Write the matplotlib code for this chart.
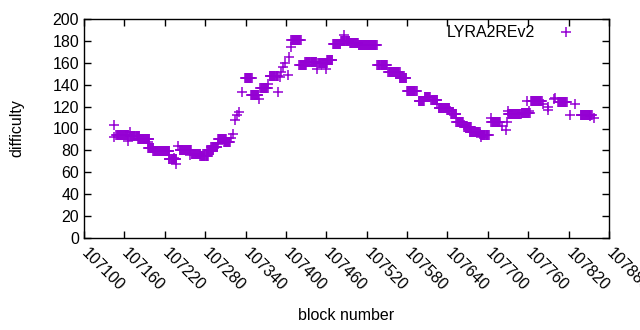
import numpy as np
import matplotlib
matplotlib.use("Agg")
import matplotlib.pyplot as plt

plt.rcParams["font.family"] = ["Liberation Sans", "DejaVu Sans"]
plt.rcParams["font.size"] = 11.5

# runs of blocks that kept the same difficulty: first block, last block, difficulty
run_start = [107148, 107168, 107180, 107195, 107203, 107226, 107242, 107260, 107273,
             107283, 107289, 107299, 107308, 107339, 107348, 107362, 107376, 107408,
             107420, 107429, 107448, 107461, 107470, 107482, 107495, 107508, 107536,
             107552, 107569, 107580, 107597, 107606, 107616, 107627, 107645, 107653,
             107665, 107673, 107690, 107705, 107730, 107750, 107764, 107804, 107838]
run_end = [107166, 107182, 107197, 107203, 107227, 107237, 107259, 107272, 107284,
           107292, 107298, 107311, 107317, 107349, 107359, 107373, 107388, 107422,
           107430, 107445, 107461, 107469, 107481, 107494, 107507, 107535, 107550,
           107569, 107579, 107594, 107605, 107614, 107625, 107643, 107653, 107663,
           107675, 107688, 107701, 107718, 107749, 107762, 107780, 107817, 107854]
run_diff = [94, 93, 90, 82, 79, 72, 80, 77, 75,
            80, 83, 90, 88, 146, 131, 137, 148, 181,
            158, 161, 160, 163, 177, 180, 178, 176, 158,
            152, 146, 134, 125, 129, 126, 119, 113, 106,
            101, 97, 94, 106, 113, 114, 125, 124, 112]

# single blocks away from the runs
spot_block = [107145, 107145, 107166, 107169, 107195, 107234, 107236, 107240, 107258,
              107273, 107299, 107318, 107322, 107325, 107327, 107331, 107335, 107360,
              107373, 107388, 107391, 107393, 107396, 107398, 107403, 107404, 107407,
              107446, 107460, 107486, 107625, 107644, 107664, 107689, 107690, 107704,
              107721, 107727, 107729, 107730, 107758, 107761, 107782, 107790, 107789,
              107799, 107800, 107822, 107830, 107852, 107858]
spot_diff = [103, 92, 89, 97, 88, 73, 68, 84, 76,
             77, 86, 91, 95, 108, 112, 115, 133, 127,
             141, 133, 147, 152, 156, 160, 149, 165, 174,
             154, 154, 185, 122, 116, 103, 95, 92, 110,
             102, 99, 106, 116, 125, 116, 122, 117, 120,
             127, 128, 112, 122, 111, 110]

xticks = list(range(107100, 107881, 60))
yticks = list(range(0, 201, 20))

blocks = []
diffs = []
for s, e, d in zip(run_start, run_end, run_diff):
    for b in range(s, e + 1):
        blocks.append(b)
        diffs.append(d)
blocks += spot_block
diffs += spot_diff

fig = plt.figure(figsize=(6.4, 3.3), dpi=100)
ax = fig.add_axes([84 / 640, 92 / 330, 525 / 640, 219 / 330])
ax.plot(blocks, diffs, linestyle="none", marker="+", markersize=7,
        markeredgewidth=1.1, color="#9400d3", label="LYRA2REv2")

ax.set_xlim(107100, 107880)
ax.set_ylim(0, 200)
ax.set_xticks(xticks)
ax.set_yticks(yticks)
ax.set_xticklabels([str(t) for t in xticks], rotation=-45, ha="left",
                   va="center", rotation_mode="anchor")
ax.tick_params(axis="x", pad=9)
ax.tick_params(direction="in", top=True, right=True, length=5, width=1)
for s in ax.spines.values():
    s.set_linewidth(1)
ax.set_xlabel("block number", labelpad=10)
ax.set_ylabel("difficulty", labelpad=20)
ax.legend(loc="upper right", bbox_to_anchor=(0.954, 1.0), frameon=False,
          markerfirst=False, handlelength=1.5, handletextpad=1.25,
          borderaxespad=0.2, borderpad=0.2)

fig.savefig("out.png", dpi=100)
